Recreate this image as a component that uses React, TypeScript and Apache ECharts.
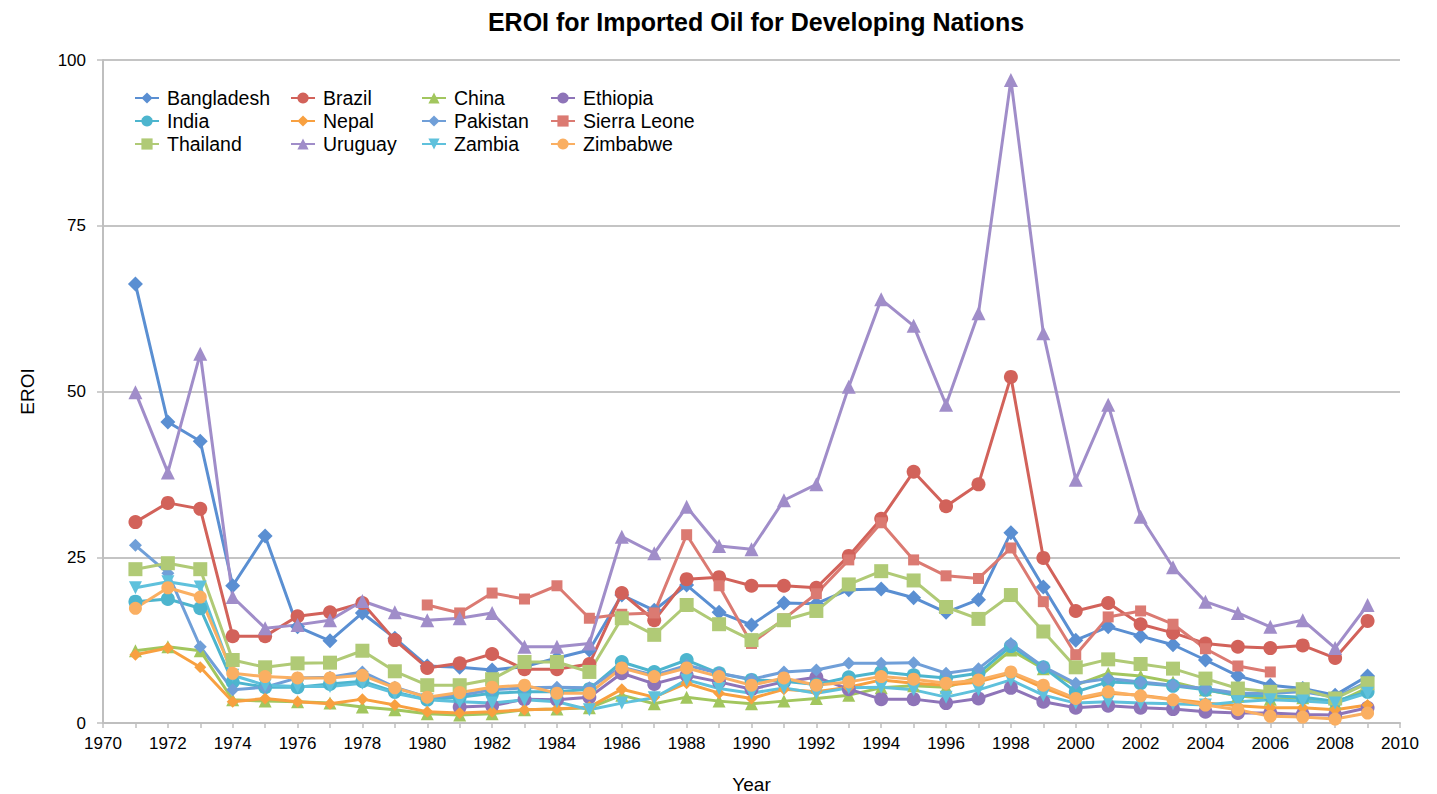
import React, { useEffect, useRef } from "react";
import * as echarts from "echarts";

const years = [
  1971, 1972, 1973, 1974, 1975, 1976, 1977, 1978, 1979, 1980,
  1981, 1982, 1983, 1984, 1985, 1986, 1987, 1988, 1989, 1990,
  1991, 1992, 1993, 1994, 1995, 1996, 1997, 1998, 1999, 2000,
  2001, 2002, 2003, 2004, 2005, 2006, 2007, 2008, 2009,
];

const bangladesh = [66.2, 45.4, 42.5, 20.7, 28.2, 14.5, 12.4, 16.6, 12.8, 8.6, 8.4, 8.0, 8.5, 9.8, 11.0, 19.3, 17.0, 20.8, 16.7, 14.8, 18.1, 18.0, 20.1, 20.2, 18.9, 16.7, 18.6, 28.7, 20.5, 12.5, 14.5, 13.1, 11.8, 9.5, 7.1, 5.7, 5.2, 4.2, 7.1];
const brazil = [30.3, 33.2, 32.3, 13.1, 13.1, 16.1, 16.7, 18.1, 12.5, 8.3, 9.0, 10.4, 8.1, 8.1, 8.9, 19.6, 15.5, 21.7, 22.0, 20.7, 20.7, 20.4, 25.2, 30.8, 37.9, 32.7, 36.0, 52.2, 24.9, 16.9, 18.1, 14.9, 13.6, 12.0, 11.5, 11.3, 11.7, 9.8, 15.4];
const china = [10.9, 11.5, 10.9, 3.5, 3.3, 3.2, 3.0, 2.4, 2.0, 1.4, 1.2, 1.4, 2.0, 2.1, 2.3, 4.2, 2.9, 3.9, 3.3, 2.9, 3.3, 3.7, 4.2, 5.3, 5.6, 5.4, 6.9, 11.0, 8.2, 5.7, 7.5, 7.1, 6.2, 5.0, 4.1, 3.6, 3.8, 3.0, 5.3];
const ethiopia = [null, null, null, null, null, null, null, null, null, null, 2.4, 2.6, 3.6, 3.5, 3.9, 7.5, 5.9, 7.2, 6.2, 5.1, 6.2, 6.9, 5.1, 3.6, 3.6, 3.0, 3.7, 5.3, 3.2, 2.3, 2.6, 2.3, 2.1, 1.7, 1.5, 1.5, 1.3, 1.2, 2.3];
const india = [18.3, 18.7, 17.3, 6.2, 5.4, 5.4, 5.9, 6.3, 4.7, 3.5, 3.9, 4.5, 4.7, 4.7, 5.1, 9.2, 7.7, 9.5, 7.5, 6.5, 6.3, 5.8, 6.9, 7.7, 7.2, 6.8, 7.5, 11.6, 8.4, 4.7, 6.2, 6.0, 5.6, 5.0, 4.2, 4.1, 3.9, 3.3, 4.7];
const nepal = [10.3, 11.3, 8.4, 3.2, 3.7, 3.2, 2.9, 3.6, 2.7, 1.7, 1.5, 1.7, 2.0, 2.1, 2.4, 5.1, 3.9, 6.0, 4.5, 3.7, 5.1, 4.7, 5.4, 6.5, 6.0, 5.7, 6.2, 7.5, 5.3, 3.5, 4.5, 4.2, 3.6, 3.0, 2.6, 2.3, 2.3, 2.0, 2.7];
const pakistan = [26.8, 22.6, 11.5, 5.0, 5.4, 6.8, 6.9, 7.7, 5.4, 3.9, 4.2, 5.0, 5.3, 5.4, 5.3, 8.4, 7.2, 8.7, 7.5, 6.6, 7.7, 8.0, 9.0, 9.0, 9.1, 7.5, 8.2, 12.0, 8.5, 6.0, 6.7, 6.2, 5.7, 5.2, 4.5, 4.5, 4.7, 3.9, 6.2];
const sierraLeone = [null, null, null, null, null, null, null, null, null, 17.8, 16.6, 19.6, 18.7, 20.7, 15.8, 16.4, 16.6, 28.4, 20.7, 12.0, 15.7, 19.5, 24.6, 30.2, 24.6, 22.2, 21.8, 26.4, 18.3, 10.3, 16.0, 16.9, 14.9, 11.2, 8.6, 7.7, null, null, null];
const thailand = [23.2, 24.1, 23.2, 9.5, 8.4, 9.0, 9.1, 10.9, 7.8, 5.7, 5.7, 6.6, 9.2, 9.2, 7.7, 15.8, 13.3, 17.8, 14.9, 12.5, 15.5, 16.9, 20.9, 22.9, 21.5, 17.5, 15.7, 19.3, 13.8, 8.4, 9.6, 8.9, 8.2, 6.7, 5.2, 4.7, 5.1, 3.7, 6.0];
const uruguay = [49.9, 37.8, 55.7, 19.0, 14.3, 14.8, 15.5, 18.4, 16.7, 15.5, 15.8, 16.6, 11.5, 11.5, 12.0, 28.1, 25.6, 32.6, 26.7, 26.2, 33.6, 36.0, 50.7, 63.9, 59.9, 48.0, 61.8, 97.0, 58.8, 36.7, 48.0, 31.1, 23.5, 18.3, 16.6, 14.5, 15.5, 11.3, 17.8];
const zambia = [20.4, 21.3, 20.5, 7.2, 5.7, 5.5, 5.5, 6.0, 4.5, 3.5, 3.2, 3.0, 3.5, 3.2, 2.0, 3.0, 3.8, 6.5, 5.2, 4.5, 5.3, 4.5, 5.3, 5.4, 5.0, 3.9, 5.0, 6.5, 4.2, 3.0, 3.2, 3.0, 2.9, 2.7, 3.2, 3.5, 3.3, 3.0, 4.5];
const zimbabwe = [17.3, 20.4, 19.0, 7.5, 7.0, 6.8, 6.8, 7.2, 5.3, 3.9, 4.6, 5.4, 5.7, 4.5, 4.5, 8.3, 7.0, 8.3, 7.0, 5.7, 6.8, 5.7, 6.2, 7.0, 6.6, 6.0, 6.5, 7.7, 5.7, 3.7, 4.7, 4.1, 3.5, 2.7, 2.0, 1.0, 0.9, 0.6, 1.5];

const yTicks = [0, 25, 50, 75, 100];

const defs = [
  { name: "Bangladesh", data: bangladesh, color: "#5A8FD2", symbol: "diamond", size: 15 },
  { name: "Brazil", data: brazil, color: "#D2625A", symbol: "circle", size: 14 },
  { name: "China", data: china, color: "#A2C65E", symbol: "triangle", size: 13 },
  { name: "Ethiopia", data: ethiopia, color: "#8E74B8", symbol: "circle", size: 14 },
  { name: "India", data: india, color: "#4DB5CE", symbol: "circle", size: 14 },
  { name: "Nepal", data: nepal, color: "#F8A040", symbol: "diamond", size: 12 },
  { name: "Pakistan", data: pakistan, color: "#709FD8", symbol: "diamond", size: 13 },
  { name: "Sierra Leone", data: sierraLeone, color: "#DB7A72", symbol: "rect", size: 11 },
  { name: "Thailand", data: thailand, color: "#B0CA76", symbol: "rect", size: 14 },
  { name: "Uruguay", data: uruguay, color: "#A08DC9", symbol: "triangle", size: 14 },
  { name: "Zambia", data: zambia, color: "#5FC1DC", symbol: "triangle", size: 13, rotate: 180 },
  { name: "Zimbabwe", data: zimbabwe, color: "#FAAF62", symbol: "circle", size: 13 },
];

const FONT = "'Liberation Sans', Arial, Helvetica, sans-serif";

export default function App() {
  const ref = useRef<HTMLDivElement>(null);
  useEffect(() => {
    if (!ref.current) return;
    const chart = echarts.init(ref.current, null, { renderer: "svg" });
    const legendCols = [
      { left: 129, names: ["Bangladesh", "India", "Thailand"] },
      { left: 285, names: ["Brazil", "Nepal", "Uruguay"] },
      { left: 416, names: ["China", "Pakistan", "Zambia"] },
      { left: 545, names: ["Ethiopia", "Sierra Leone", "Zimbabwe"] },
    ];
    chart.setOption({
      animation: false,
      backgroundColor: "#ffffff",
      textStyle: { fontFamily: FONT },
      title: {
        text: "EROI for Imported Oil for Developing Nations",
        left: 751,
        textAlign: "center",
        top: 4,
        textStyle: { fontFamily: FONT, fontSize: 25, fontWeight: "bold", color: "#000" },
      },
      legend: legendCols.map((c) => ({
        orient: "vertical",
        left: c.left,
        top: 83,
        data: c.names,
        itemWidth: 24,
        itemHeight: 14,
        itemGap: 3,
        selectedMode: false,
        textStyle: { fontFamily: FONT, fontSize: 19.5, color: "#000", padding: [0, 0, 0, 3] },
      })),
      grid: {
        left: 103,
        right: 37,
        top: 60,
        bottom: 71,
        containLabel: false,
        outerBoundsMode: "none",
      },
      xAxis: {
        type: "value",
        min: 1970,
        max: 2010,
        interval: 1,
        name: "Year",
        nameLocation: "middle",
        nameGap: 52,
        nameTextStyle: { fontFamily: FONT, fontSize: 19, color: "#000" },
        axisLine: { show: true, lineStyle: { color: "#BFBFBF", width: 2 } },
        axisTick: { show: true, length: 5, lineStyle: { color: "#BFBFBF", width: 1.5 } },
        axisLabel: {
          fontFamily: FONT,
          fontSize: 17,
          color: "#000",
          margin: 12,
          formatter: (v: number) => (v % 2 === 0 ? String(v) : ""),
        },
        splitLine: { show: false },
      },
      yAxis: {
        type: "value",
        min: yTicks[0],
        max: yTicks[yTicks.length - 1],
        interval: 25,
        name: "EROI",
        nameLocation: "middle",
        nameGap: 66,
        nameRotate: 90,
        nameTextStyle: { fontFamily: FONT, fontSize: 19, color: "#000" },
        axisLine: { show: true, lineStyle: { color: "#BFBFBF", width: 2 } },
        axisTick: { show: true, length: 6, lineStyle: { color: "#BFBFBF", width: 1.5 } },
        axisLabel: { fontFamily: FONT, fontSize: 17, color: "#000", margin: 17 },
        splitLine: { show: true, lineStyle: { color: "#C4C4C4", width: 2 } },
      },
      series: defs.map((d) => ({
        type: "line",
        name: d.name,
        data: years
          .map((y, i) => [y, d.data[i]])
          .filter((p) => p[1] !== null && p[1] !== undefined),
        symbol: d.symbol,
        symbolSize: d.size,
        symbolRotate: (d as any).rotate || 0,
        showAllSymbol: true,
        lineStyle: { color: d.color, width: 3 },
        itemStyle: { color: d.color, borderWidth: 0 },
        emphasis: { disabled: true },
      })),
    });
    return () => chart.dispose();
  }, []);
  return (
    <div
      ref={ref}
      style={{ position: "fixed", left: 0, top: 0, width: 1437, height: 794, background: "#fff" }}
    />
  );
}
